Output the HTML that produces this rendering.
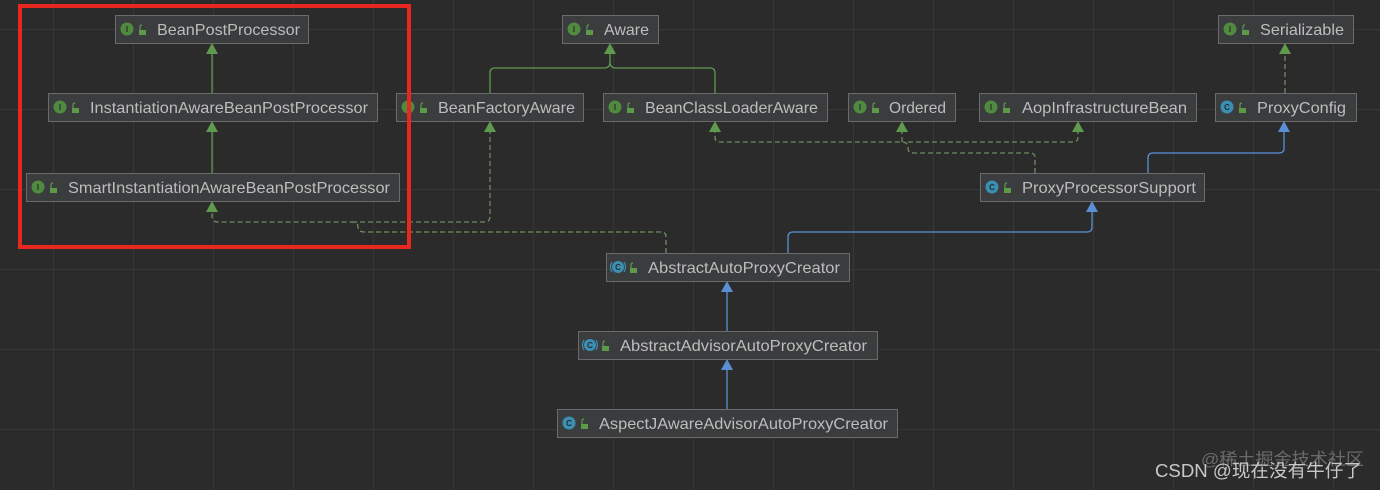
<!DOCTYPE html>
<html><head><meta charset="utf-8"><style>
html,body{margin:0;padding:0;background:#2b2b2b;}
svg{display:block;}
text{font-family:"Liberation Sans","Noto Sans CJK SC",sans-serif;}
</style></head><body>
<svg width="1380" height="490" viewBox="0 0 1380 490" xmlns="http://www.w3.org/2000/svg">
<rect width="1380" height="490" fill="#2b2b2b"/>
<g stroke="#383838" stroke-width="1">
<line x1="53.5" y1="0" x2="53.5" y2="490"/><line x1="133.5" y1="0" x2="133.5" y2="490"/><line x1="213.5" y1="0" x2="213.5" y2="490"/><line x1="293.5" y1="0" x2="293.5" y2="490"/><line x1="373.5" y1="0" x2="373.5" y2="490"/><line x1="453.5" y1="0" x2="453.5" y2="490"/><line x1="533.5" y1="0" x2="533.5" y2="490"/><line x1="613.5" y1="0" x2="613.5" y2="490"/><line x1="693.5" y1="0" x2="693.5" y2="490"/><line x1="773.5" y1="0" x2="773.5" y2="490"/><line x1="853.5" y1="0" x2="853.5" y2="490"/><line x1="933.5" y1="0" x2="933.5" y2="490"/><line x1="1013.5" y1="0" x2="1013.5" y2="490"/><line x1="1093.5" y1="0" x2="1093.5" y2="490"/><line x1="1173.5" y1="0" x2="1173.5" y2="490"/><line x1="1253.5" y1="0" x2="1253.5" y2="490"/><line x1="1333.5" y1="0" x2="1333.5" y2="490"/>
<line x1="0" y1="29.5" x2="1380" y2="29.5"/><line x1="0" y1="109.5" x2="1380" y2="109.5"/><line x1="0" y1="189.5" x2="1380" y2="189.5"/><line x1="0" y1="269.5" x2="1380" y2="269.5"/><line x1="0" y1="349.5" x2="1380" y2="349.5"/><line x1="0" y1="429.5" x2="1380" y2="429.5"/>
</g>
<g fill="none" stroke-width="1.3">
<g stroke="#5f9a4f">
<line x1="212" y1="93" x2="212" y2="52"/>
<line x1="212" y1="173" x2="212" y2="130"/>
<path d="M490 93 V73 Q490 68 495 68 H604 Q610 68 610 62 V52"/>
<path d="M715 93 V73 Q715 68 710 68 H616 Q610 68 610 62"/>
</g>
<g stroke="#6d8e5f" stroke-dasharray="5,3">
<path d="M666 253 V237 Q666 232 661 232 H365 Q358 232 358 227 Q358 222 352 222 H218 Q212 222 212 216 V210"/>
<path d="M352 222 H485 Q490 222 490 216 V130"/>
<path d="M1035 173 V158 Q1035 153 1030 153 H913 Q908 153 908 148 Q908 142 902 142 H720 Q715 142 715 137 V130"/>
<path d="M902 142 V130"/>
<path d="M908 142 H1073 Q1078 142 1078 137 V130"/>
<line x1="1285" y1="93" x2="1285" y2="52"/>
</g>
<g stroke="#5a8fd6">
<path d="M1148 173 V158 Q1148 153 1153 153 H1279 Q1284 153 1284 148 V130"/>
<path d="M788 253 V237 Q788 232 793 232 H1087 Q1092 232 1092 227 V210"/>
<line x1="727" y1="331" x2="727" y2="290"/>
<line x1="727" y1="409" x2="727" y2="368"/>
</g>
</g>
<g fill="#5f9a4f">
<polygon points="212,43 206,54 218,54"/><polygon points="212,121 206,132 218,132"/><polygon points="610,43 604,54 616,54"/>
<polygon points="212,201 206,212 218,212"/><polygon points="490,121 484,132 496,132"/><polygon points="715,121 709,132 721,132"/>
<polygon points="902,121 896,132 908,132"/><polygon points="1078,121 1072,132 1084,132"/><polygon points="1285,43 1279,54 1291,54"/>
</g>
<g fill="#5a8fd6">
<polygon points="1284,121 1278,132 1290,132"/><polygon points="1092,201 1086,212 1098,212"/>
<polygon points="727,281 721,292 733,292"/><polygon points="727,359 721,370 733,370"/>
</g>
<g font-size="16" fill="#bdbdbd">
<rect x="115.5" y="15.5" width="193" height="28" fill="#3a3c3e" stroke="#6b6b6b"/>
<rect x="48.5" y="93.5" width="329" height="28" fill="#3a3c3e" stroke="#6b6b6b"/>
<rect x="26.5" y="173.5" width="373" height="28" fill="#3a3c3e" stroke="#6b6b6b"/>
<rect x="396.5" y="93.5" width="187" height="28" fill="#3a3c3e" stroke="#6b6b6b"/>
<rect x="562.5" y="15.5" width="96" height="28" fill="#3a3c3e" stroke="#6b6b6b"/>
<rect x="603.5" y="93.5" width="224" height="28" fill="#3a3c3e" stroke="#6b6b6b"/>
<rect x="848.5" y="93.5" width="107" height="28" fill="#3a3c3e" stroke="#6b6b6b"/>
<rect x="979.5" y="93.5" width="217" height="28" fill="#3a3c3e" stroke="#6b6b6b"/>
<rect x="1218.5" y="15.5" width="135" height="28" fill="#3a3c3e" stroke="#6b6b6b"/>
<rect x="1215.5" y="93.5" width="141" height="28" fill="#3a3c3e" stroke="#6b6b6b"/>
<rect x="980.5" y="173.5" width="224" height="28" fill="#3a3c3e" stroke="#6b6b6b"/>
<rect x="606.5" y="253.5" width="243" height="28" fill="#3a3c3e" stroke="#6b6b6b"/>
<rect x="578.5" y="331.5" width="299" height="28" fill="#3a3c3e" stroke="#6b6b6b"/>
<rect x="557.5" y="409.5" width="340" height="28" fill="#3a3c3e" stroke="#6b6b6b"/>
<text x="157" y="35" textLength="143" lengthAdjust="spacingAndGlyphs">BeanPostProcessor</text>
<text x="90" y="113" textLength="278" lengthAdjust="spacingAndGlyphs">InstantiationAwareBeanPostProcessor</text>
<text x="68" y="193" textLength="322" lengthAdjust="spacingAndGlyphs">SmartInstantiationAwareBeanPostProcessor</text>
<text x="438" y="113" textLength="137" lengthAdjust="spacingAndGlyphs">BeanFactoryAware</text>
<text x="604" y="35" textLength="45" lengthAdjust="spacingAndGlyphs">Aware</text>
<text x="645" y="113" textLength="173" lengthAdjust="spacingAndGlyphs">BeanClassLoaderAware</text>
<text x="889" y="113" textLength="57" lengthAdjust="spacingAndGlyphs">Ordered</text>
<text x="1022" y="113" textLength="165" lengthAdjust="spacingAndGlyphs">AopInfrastructureBean</text>
<text x="1260" y="35" textLength="84" lengthAdjust="spacingAndGlyphs">Serializable</text>
<text x="1257" y="113" textLength="89" lengthAdjust="spacingAndGlyphs">ProxyConfig</text>
<text x="1022" y="193" textLength="174" lengthAdjust="spacingAndGlyphs">ProxyProcessorSupport</text>
<text x="648" y="273" textLength="192" lengthAdjust="spacingAndGlyphs">AbstractAutoProxyCreator</text>
<text x="620" y="351" textLength="247" lengthAdjust="spacingAndGlyphs">AbstractAdvisorAutoProxyCreator</text>
<text x="599" y="429" textLength="289" lengthAdjust="spacingAndGlyphs">AspectJAwareAdvisorAutoProxyCreator</text>
</g>
<g font-size="8" font-weight="bold" text-anchor="middle">
<g fill="#4f8a3f">
<circle cx="127" cy="29" r="6.5"/><circle cx="60" cy="107" r="6.5"/><circle cx="38" cy="187" r="6.5"/><circle cx="408" cy="107" r="6.5"/>
<circle cx="574" cy="29" r="6.5"/><circle cx="615" cy="107" r="6.5"/><circle cx="860" cy="107" r="6.5"/><circle cx="991" cy="107" r="6.5"/><circle cx="1230" cy="29" r="6.5"/>
</g>
<g fill="#2b2b2b">
<text x="127" y="32">I</text><text x="60" y="110">I</text><text x="38" y="190">I</text><text x="408" y="110">I</text>
<text x="574" y="32">I</text><text x="615" y="110">I</text><text x="860" y="110">I</text><text x="991" y="110">I</text><text x="1230" y="32">I</text>
</g>
<g fill="#3b8fb3">
<circle cx="1227" cy="107" r="6.5"/><circle cx="992" cy="187" r="6.5"/><circle cx="618" cy="267" r="6"/><circle cx="590" cy="345" r="6"/><circle cx="569" cy="423" r="6.5"/>
</g>
<g fill="none" stroke="#3b8fb3" stroke-width="1.2">
<path d="M612 262 Q609 267 612 272"/><path d="M624 262 Q627 267 624 272"/>
<path d="M584 340 Q581 345 584 350"/><path d="M596 340 Q599 345 596 350"/>
</g>
<g fill="#2b2b2b">
<text x="1227" y="110">C</text><text x="992" y="190">C</text><text x="618" y="270">C</text><text x="590" y="348">C</text><text x="569" y="426">C</text>
</g>
</g>
<g fill="#5c9a48">
<rect x="139" y="30" width="7" height="5"/><rect x="72" y="108" width="7" height="5"/><rect x="50" y="188" width="7" height="5"/><rect x="420" y="108" width="7" height="5"/>
<rect x="586" y="30" width="7" height="5"/><rect x="627" y="108" width="7" height="5"/><rect x="872" y="108" width="7" height="5"/><rect x="1003" y="108" width="7" height="5"/><rect x="1242" y="30" width="7" height="5"/>
<rect x="1239" y="108" width="7" height="5"/><rect x="1004" y="188" width="7" height="5"/><rect x="630" y="268" width="7" height="5"/><rect x="602" y="346" width="7" height="5"/><rect x="581" y="424" width="7" height="5"/>
</g>
<g fill="none" stroke="#5c9a48" stroke-width="1.2">
<path d="M140 30 V27 Q140 25 142 25"/><path d="M73 108 V105 Q73 103 75 103"/><path d="M51 188 V185 Q51 183 53 183"/><path d="M421 108 V105 Q421 103 423 103"/>
<path d="M587 30 V27 Q587 25 589 25"/><path d="M628 108 V105 Q628 103 630 103"/><path d="M873 108 V105 Q873 103 875 103"/><path d="M1004 108 V105 Q1004 103 1006 103"/><path d="M1243 30 V27 Q1243 25 1245 25"/>
<path d="M1240 108 V105 Q1240 103 1242 103"/><path d="M1005 188 V185 Q1005 183 1007 183"/><path d="M631 268 V265 Q631 263 633 263"/><path d="M603 346 V343 Q603 341 605 341"/><path d="M582 424 V421 Q582 419 584 419"/>
</g>
<rect x="20" y="6" width="389" height="241" fill="none" stroke="#e8281f" stroke-width="4"/>
<text x="1201" y="465" font-size="17" fill="#6a6a6a" textLength="163" lengthAdjust="spacingAndGlyphs">@稀土掘金技术社区</text>
<text x="1155" y="477" font-size="18" fill="#c8c8c8" textLength="207" lengthAdjust="spacingAndGlyphs">CSDN @现在没有牛仔了</text>
</svg>
</body></html>
